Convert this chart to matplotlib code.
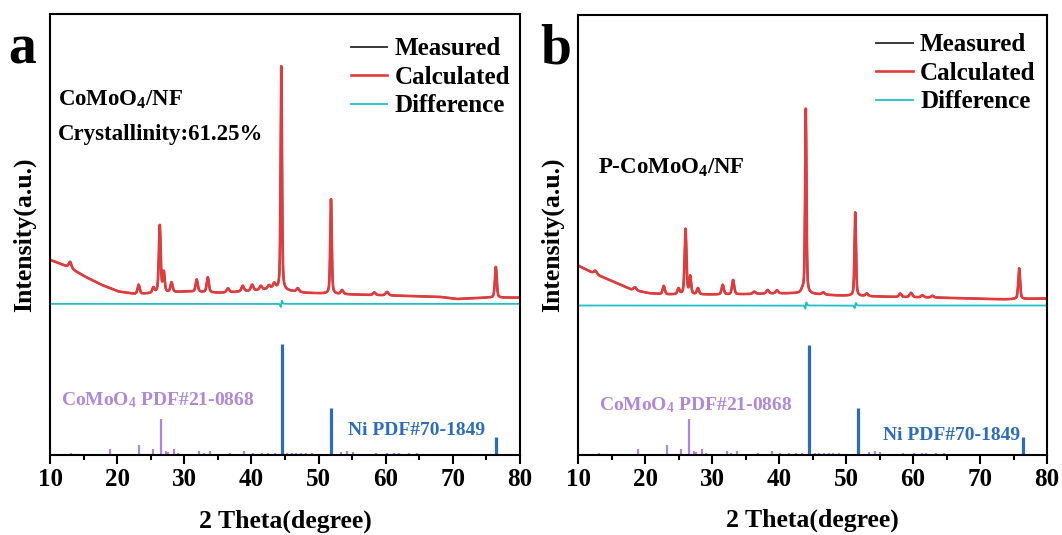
import numpy as np
import matplotlib
matplotlib.use("Agg")
import matplotlib.pyplot as plt

plt.rcParams["font.family"] = ["Liberation Serif", "DejaVu Serif"]
plt.rcParams["font.weight"] = "bold"
plt.rcParams["mathtext.default"] = "regular"

# ---------------------------------------------------------------- data
# Scan grid (2-theta, degrees)
two_theta = np.arange(10.0, 80.0001, 0.02)

# Background points (2-theta, intensity a.u.) for each sample
bg_a_pos = [10.0, 12.7, 15.2, 17.7, 20.2, 22.8, 30.3, 35.4, 40.0, 43.0, 48.0, 53.0, 58.0, 63.0, 68.0, 70.6, 75.0, 80.0]
bg_a_val = [44.2, 42.6, 40.4, 38.5, 37.0, 36.4, 37.0, 36.7, 37.1, 37.6, 36.7, 36.4, 36.2, 36.0, 35.8, 35.3, 35.6, 35.6]
bg_b_pos = [10.0, 12.5, 15.5, 18.0, 20.6, 23.1, 28.2, 33.0, 38.0, 43.3, 48.4, 53.4, 58.5, 63.5, 68.6, 73.6, 80.0]
bg_b_val = [43.0, 41.1, 39.2, 37.5, 36.7, 36.4, 36.4, 36.4, 36.6, 36.7, 36.2, 36.0, 35.8, 35.7, 35.5, 35.3, 35.5]

# Refined reflections: position (deg), height (a.u.), FWHM (deg)
pk_a_pos = [13.0, 23.2, 25.4, 26.35, 26.95, 28.1, 31.85, 33.5, 36.5, 38.7, 40.1, 41.4, 42.6, 43.4,
            44.45, 46.9, 51.85, 53.5, 58.3, 60.2, 76.4]
pk_a_h = [1.4, 2.1, 1.2, 15.3, 4.5, 2.2, 2.8, 3.4, 0.9, 1.3, 1.4, 0.9, 0.8, 1.2,
          51.0, 0.8, 21.6, 0.9, 0.6, 0.8, 7.0]
pk_a_w = [0.45, 0.38, 0.38, 0.32, 0.32, 0.38, 0.38, 0.38, 0.45, 0.45, 0.45, 0.45, 0.45, 0.45,
          0.24, 0.45, 0.26, 0.45, 0.45, 0.5, 0.32]

pk_b_pos = [12.6, 18.5, 22.8, 25.0, 26.05, 26.75, 27.9, 31.6, 33.15, 36.3, 38.3, 39.7, 43.5,
            44.0, 46.6, 51.38, 53.1, 58.1, 59.7, 61.4, 62.9, 75.85]
pk_b_h = [0.8, 0.7, 1.9, 1.3, 14.9, 4.0, 1.4, 2.2, 3.3, 0.5, 0.8, 0.7, 0.6,
          42.0, 0.5, 19.0, 0.6, 0.8, 1.0, 0.5, 0.4, 7.0]
pk_b_w = [0.5, 0.5, 0.38, 0.38, 0.32, 0.32, 0.38, 0.38, 0.38, 0.45, 0.45, 0.45, 0.45,
          0.24, 0.45, 0.26, 0.45, 0.45, 0.5, 0.45, 0.45, 0.32]

# Residual peak-position misfit of the strongest observed reflections (deg)
misfit_a = {44.45: 0.0025}
misfit_b = {44.0: 0.003, 51.38: 0.006}

# Level at which the difference curve is drawn
diff_level_a = 34.2
diff_level_b = 33.9

# Standard patterns: position (deg), relative height
ref_co_pos = [13.1, 19.0, 23.3, 25.4, 26.5, 27.3, 27.6, 28.45, 29.05, 32.2, 32.9, 33.8, 36.8,
              38.9, 40.2, 41.5, 42.5, 43.5, 45.3, 46.0, 46.7, 47.4, 48.1, 49.0, 53.4, 54.3,
              55.1, 58.5, 60.2, 61.3, 62.0, 63.4, 64.7]
ref_co_h = [0.45, 1.2, 2.1, 1.2, 8.0, 0.75, 0.5, 1.2, 0.4, 0.75, 0.4, 0.75, 0.3,
            0.75, 0.3, 0.3, 0.3, 0.4, 0.3, 0.35, 0.3, 0.3, 0.3, 0.3, 0.6, 0.7,
            0.5, 0.3, 0.35, 0.3, 0.35, 0.3, 0.3]
ref_ni_pos = [44.5, 51.85, 76.4]
ref_ni_h = [25.0, 10.5, 4.0]

x_ticks = [10, 20, 30, 40, 50, 60, 70, 80]

# ---------------------------------------------------------------- profiles
def pseudo_voigt(x, x0, h, w, eta=0.45):
    u = (x - x0) / (w / 2.0)
    return h * (eta / (1.0 + u ** 2) + (1.0 - eta) * np.exp(-np.log(2.0) * u ** 2))


def pattern(bg_pos, bg_val, pos, h, w, shifts=None):
    y = np.interp(two_theta, bg_pos, bg_val)
    for p, hh, ww in zip(pos, h, w):
        dp = shifts.get(p, 0.0) if shifts else 0.0
        y = y + pseudo_voigt(two_theta, p + dp, hh, ww)
    return y


C_MEAS = "#3a3a3a"
C_CALC = "#e23b3d"
C_DIFF = "#22c0c4"
C_CO = "#b183da"
C_CO_TXT = "#b087da"
C_NI = "#2b6cc0"


def draw_panel(ax, bg_pos, bg_val, pos, h, w, misfit, diff_level):
    calc = pattern(bg_pos, bg_val, pos, h, w)
    meas = pattern(bg_pos, bg_val, pos, h, w, shifts=misfit)
    diff = meas - calc + diff_level

    l1, = ax.plot(two_theta, meas, color=C_MEAS, lw=1.4, label="Measured")
    l2, = ax.plot(two_theta, calc, color=C_CALC, lw=1.9, label="Calculated")
    l3, = ax.plot(two_theta, diff, color=C_DIFF, lw=1.3, label="Difference")

    ax.vlines(ref_co_pos, 0, ref_co_h, color=C_CO, lw=1.6)
    ax.vlines(ref_ni_pos, 0, ref_ni_h, color=C_NI, lw=2.3)

    ax.set_xlim(10, 80)
    ax.set_ylim(0, 100)
    ax.set_xticks(x_ticks)
    ax.set_xticks(np.arange(15, 80, 10), minor=True)
    ax.set_yticks([])
    ax.tick_params(axis="x", which="major", direction="out", length=6.5, width=1.5,
                   labelsize=18, pad=3)
    ax.tick_params(axis="x", which="minor", direction="out", length=3.5, width=1.5)
    for lab in ax.get_xticklabels():
        lab.set_fontweight("bold")
    for s in ax.spines.values():
        s.set_linewidth(1.5)

    ax.set_xlabel("2 Theta(degree)", fontsize=18.5, fontweight="bold")
    ax.xaxis.set_label_coords(0.5, -0.124)
    ax.set_ylabel("Intensity(a.u.)", fontsize=18.5, fontweight="bold")
    ax.yaxis.set_label_coords(-0.03, 0.5)
    return [l1, l2, l3]


fig = plt.figure(figsize=(10.62, 5.35), dpi=100)
ax_a = fig.add_axes([50 / 1062, 1 - 454.5 / 535, 470 / 1062, 440.5 / 535])
ax_b = fig.add_axes([578 / 1062, 1 - 454.5 / 535, 469 / 1062, 439.5 / 535])

h_a = draw_panel(ax_a, bg_a_pos, bg_a_val, pk_a_pos, pk_a_h, pk_a_w, misfit_a, diff_level_a)
h_b = draw_panel(ax_b, bg_b_pos, bg_b_val, pk_b_pos, pk_b_h, pk_b_w, misfit_b, diff_level_b)

leg_kw = dict(frameon=False, fontsize=18, handlelength=1.45, handletextpad=0.3,
              labelspacing=0.22, borderpad=0, borderaxespad=0, loc="upper left")
ax_a.legend(handles=h_a, bbox_to_anchor=(0.64, 0.947), **leg_kw)
ax_b.legend(handles=h_b, bbox_to_anchor=(0.636, 0.958), **leg_kw)

# sample annotations
ax_a.text(0.017, 0.791, "CoMoO$_4$/NF", transform=ax_a.transAxes, fontsize=16.5,
          fontweight="bold", va="baseline", ha="left")
ax_a.text(0.017, 0.714, "Crystallinity:61.25%", transform=ax_a.transAxes, fontsize=16.5,
          fontweight="bold", va="baseline", ha="left")
ax_b.text(0.042, 0.64, "P-CoMoO$_4$/NF", transform=ax_b.transAxes, fontsize=16.5,
          fontweight="bold", va="baseline", ha="left")

# reference card labels
ax_a.text(0.023, 0.112, "CoMoO$_4$ PDF#21-0868", transform=ax_a.transAxes, fontsize=14,
          fontweight="bold", color=C_CO_TXT, va="baseline", ha="left")
ax_a.text(0.634, 0.044, "Ni PDF#70-1849", transform=ax_a.transAxes, fontsize=14,
          fontweight="bold", color=C_NI, va="baseline", ha="left")
ax_b.text(0.045, 0.101, "CoMoO$_4$ PDF#21-0868", transform=ax_b.transAxes, fontsize=14,
          fontweight="bold", color=C_CO_TXT, va="baseline", ha="left")
ax_b.text(0.65, 0.033, "Ni PDF#70-1849", transform=ax_b.transAxes, fontsize=14,
          fontweight="bold", color=C_NI, va="baseline", ha="left")

# panel letters
fig.text(0.008, 1 - 64 / 535, "a", fontsize=40, fontweight="bold", va="baseline", ha="left")
fig.text(0.5085, 1 - 63 / 535, "b", fontsize=40, fontweight="bold", va="baseline", ha="left")

fig.savefig("out.png", dpi=100)
